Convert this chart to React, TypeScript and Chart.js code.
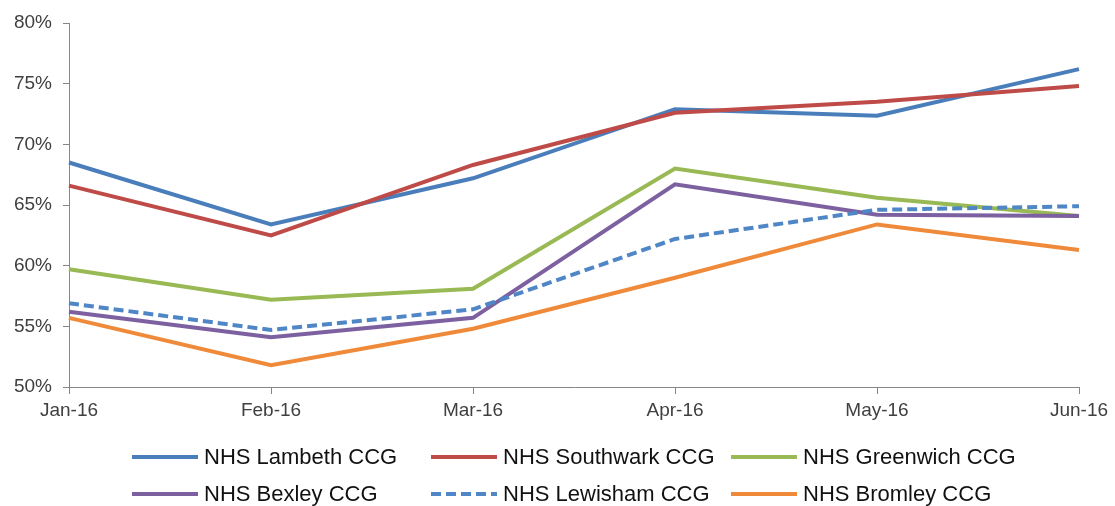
import React, { useEffect, useRef } from "react";
import { Chart, registerables } from "chart.js";

Chart.register(...registerables);

const months = ["Jan-16", "Feb-16", "Mar-16", "Apr-16", "May-16", "Jun-16"];
const lambeth = [68.5, 63.4, 67.2, 72.9, 72.35, 76.2];
const southwark = [66.6, 62.5, 68.3, 72.6, 73.5, 74.8];
const greenwich = [59.7, 57.2, 58.1, 68.0, 65.6, 64.1];
const bexley = [56.2, 54.1, 55.7, 66.7, 64.2, 64.1];
const lewisham = [56.9, 54.7, 56.4, 62.2, 64.6, 64.9];
const bromley = [55.7, 51.8, 54.8, 59.0, 63.4, 61.3];

const seriesNames = [
  "NHS Lambeth CCG",
  "NHS Southwark CCG",
  "NHS Greenwich CCG",
  "NHS Bexley CCG",
  "NHS Lewisham CCG",
  "NHS Bromley CCG",
];
const seriesValues = [lambeth, southwark, greenwich, bexley, lewisham, bromley];
const seriesColors = ["#4A7EBB", "#BE4B48", "#98B954", "#7D60A0", "#4F86C6", "#EF8A3A"];
const seriesDashes = [[], [], [], [], [10, 5], []];

const tickFont = { family: "'Liberation Sans', Arial, sans-serif", size: 19 };
const legendFontCss = "22px 'Liberation Sans', Arial, sans-serif";

const legendPlugin = {
  id: "customLegend",
  afterDraw(chart: any) {
    const ctx = chart.ctx;
    const colX = [132, 431, 731];
    const rowY = [457, 494];
    ctx.save();
    chart.data.datasets.forEach((ds: any, i: number) => {
      const x = colX[i % 3];
      const y = rowY[Math.floor(i / 3)];
      ctx.beginPath();
      ctx.setLineDash(ds.borderDash || []);
      ctx.strokeStyle = ds.borderColor;
      ctx.lineWidth = 4;
      ctx.lineCap = "butt";
      ctx.moveTo(x, y);
      ctx.lineTo(x + 66, y);
      ctx.stroke();
      ctx.setLineDash([]);
      ctx.fillStyle = "#111";
      ctx.font = legendFontCss;
      ctx.textBaseline = "middle";
      ctx.textAlign = "left";
      ctx.fillText(ds.label, x + 72, y + 1);
    });
    ctx.restore();
  },
};

export default function App() {
  const ref = useRef<HTMLCanvasElement | null>(null);
  useEffect(() => {
    if (!ref.current) return;
    const chart = new Chart(ref.current, {
      type: "line",
      data: {
        labels: months,
        datasets: seriesNames.map((name, i) => ({
          label: name,
          data: seriesValues[i],
          borderColor: seriesColors[i],
          backgroundColor: seriesColors[i],
          borderWidth: 4,
          borderDash: seriesDashes[i],
          pointRadius: 0,
          tension: 0,
          fill: false,
          order: 5 - i,
        })),
      },
      options: {
        responsive: false,
        animation: false,
        layout: { padding: { left: 0, right: 36, top: 23, bottom: 80 } },
        plugins: {
          legend: { display: false },
          tooltip: { enabled: false },
        },
        scales: {
          x: {
            offset: false,
            grid: {
              drawOnChartArea: false,
              drawTicks: true,
              tickLength: 7,
              color: "#868686",
            },
            border: { display: true, color: "#868686", width: 1 },
            ticks: {
              color: "#404040",
              font: tickFont,
              padding: 5,
              maxRotation: 0,
              autoSkip: false,
            },
            afterFit: (s: any) => {
              s.height = 39;
            },
          },
          y: {
            min: 50,
            max: 80,
            grid: {
              drawOnChartArea: false,
              drawTicks: true,
              tickLength: 6,
              color: "#868686",
            },
            border: { display: true, color: "#868686", width: 1 },
            ticks: {
              stepSize: 5,
              color: "#404040",
              font: tickFont,
              padding: 11,
              callback: (v: any) => v + "%",
            },
            afterFit: (s: any) => {
              s.width = 69;
            },
          },
        },
      },
      plugins: [legendPlugin],
    });
    return () => chart.destroy();
  }, []);
  return (
    <div style={{ position: "absolute", left: 0, top: 0, width: 1115, height: 506, background: "#fff" }}>
      <canvas ref={ref} width={1115} height={506} />
    </div>
  );
}
